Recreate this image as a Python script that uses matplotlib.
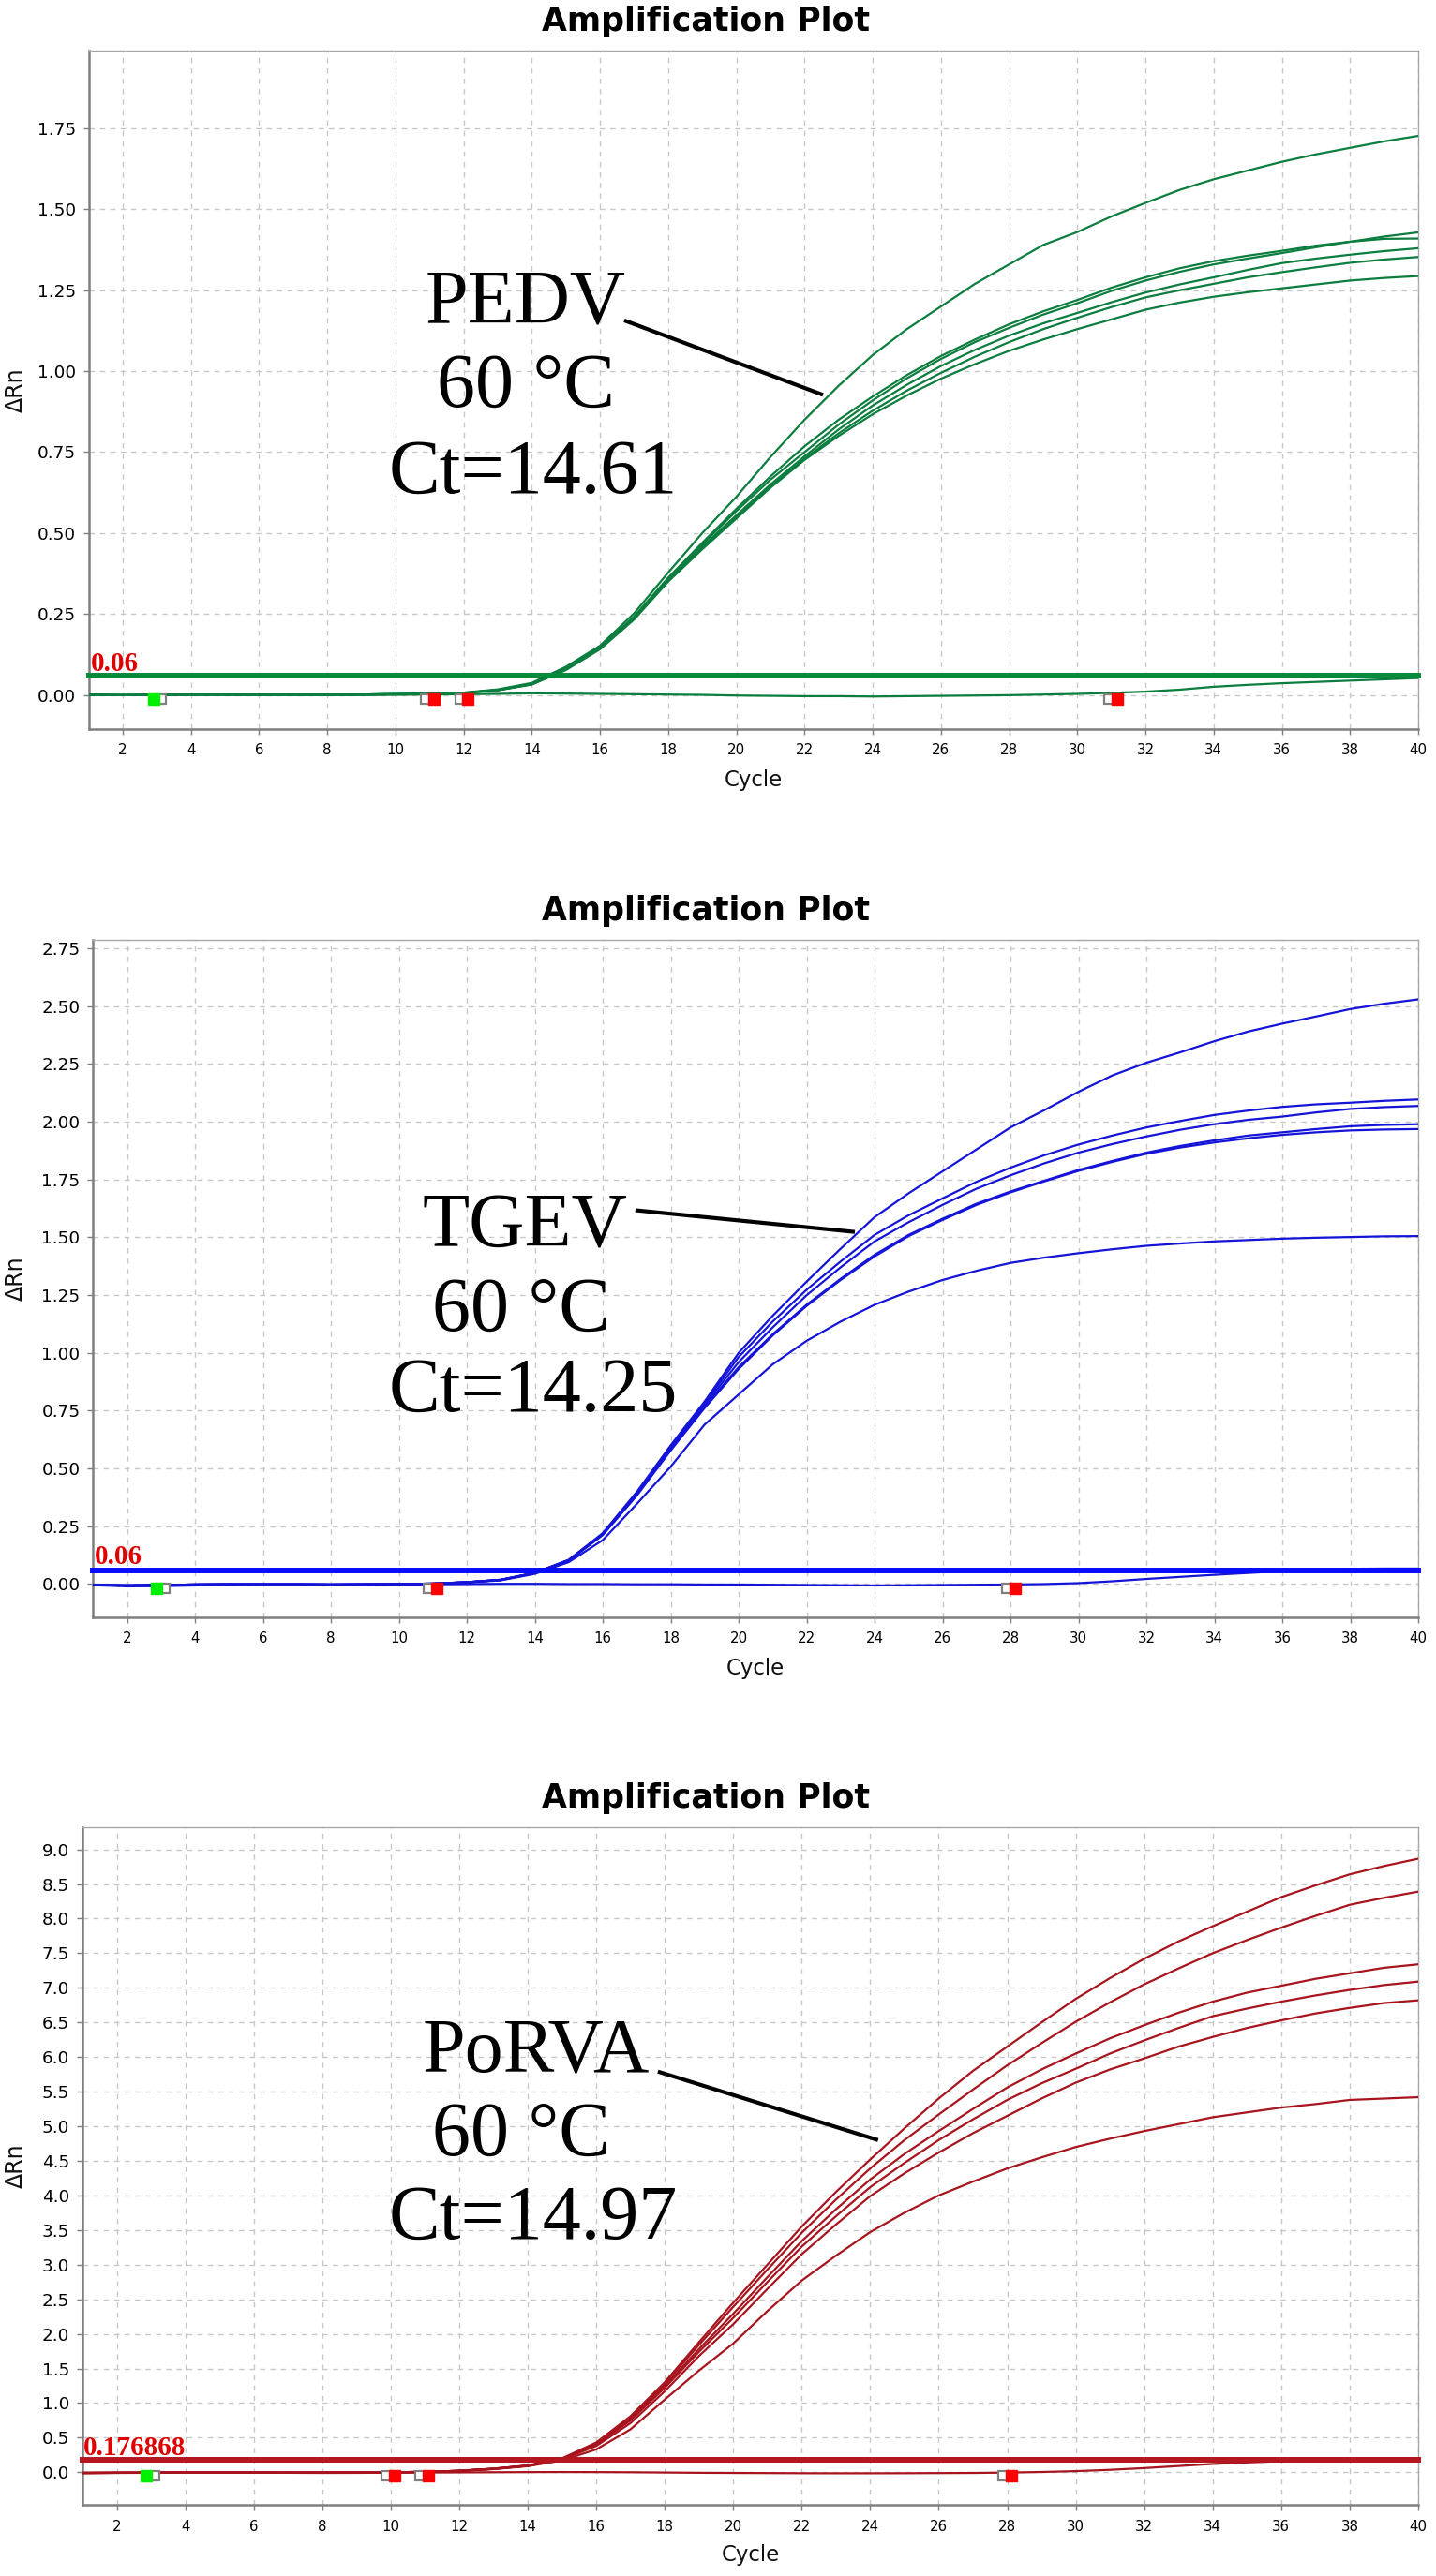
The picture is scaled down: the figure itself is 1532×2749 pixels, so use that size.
import numpy as np
import matplotlib
matplotlib.use("Agg")
import matplotlib.pyplot as plt

W, H = 1532, 2749
cycles = list(range(1, 41))

# ---------------- data -----------------
early_pedv = [0.000, -0.001, 0.000, 0.001, 0.001, 0.000, 0.000, 0.000, 0.001, 0.002, 0.003]
pedv_curves = [
    early_pedv + [0.007, 0.017, 0.037, 0.087, 0.152, 0.252, 0.378, 0.500, 0.612,
                  0.735, 0.850, 0.955, 1.050, 1.130, 1.200, 1.270, 1.330, 1.390, 1.430,
                  1.478, 1.520, 1.560, 1.593, 1.620, 1.647, 1.670, 1.690, 1.710, 1.727],
    early_pedv + [0.006, 0.015, 0.034, 0.080, 0.146, 0.240, 0.360, 0.465, 0.568,
                  0.665, 0.750, 0.835, 0.910, 0.978, 1.038, 1.090, 1.134, 1.175, 1.210,
                  1.248, 1.280, 1.307, 1.330, 1.348, 1.365, 1.383, 1.400, 1.416, 1.429],
    early_pedv + [0.006, 0.015, 0.034, 0.081, 0.147, 0.242, 0.362, 0.470, 0.575,
                  0.675, 0.768, 0.850, 0.922, 0.988, 1.047, 1.098, 1.145, 1.185, 1.220,
                  1.258, 1.290, 1.318, 1.340, 1.357, 1.372, 1.388, 1.400, 1.409, 1.410],
    early_pedv + [0.006, 0.015, 0.033, 0.079, 0.144, 0.238, 0.356, 0.458, 0.555,
                  0.650, 0.737, 0.820, 0.894, 0.958, 1.016, 1.066, 1.110, 1.148, 1.180,
                  1.213, 1.243, 1.268, 1.290, 1.313, 1.334, 1.348, 1.360, 1.371, 1.380],
    early_pedv + [0.006, 0.015, 0.033, 0.078, 0.143, 0.236, 0.354, 0.455, 0.550,
                  0.643, 0.730, 0.808, 0.878, 0.940, 0.995, 1.045, 1.090, 1.130, 1.165,
                  1.198, 1.228, 1.250, 1.270, 1.290, 1.306, 1.321, 1.335, 1.345, 1.353],
    early_pedv + [0.006, 0.014, 0.032, 0.077, 0.141, 0.233, 0.350, 0.450, 0.545,
                  0.640, 0.726, 0.800, 0.867, 0.925, 0.977, 1.022, 1.063, 1.098, 1.130,
                  1.160, 1.190, 1.212, 1.230, 1.244, 1.256, 1.268, 1.280, 1.288, 1.294],
]
pedv_flat = [0.000, -0.001, -0.001, 0.000, 0.000, 0.000, 0.000, -0.001, 0.000, 0.000,
             0.001, 0.002, 0.003, 0.005, 0.004, 0.003, 0.002, 0.001, 0.000, -0.002,
             -0.003, -0.004, -0.004, -0.005, -0.004, -0.003, -0.002, -0.001, 0.001, 0.003,
             0.006, 0.010, 0.016, 0.025, 0.031, 0.036, 0.040, 0.044, 0.048, 0.052]

early_tgev = [-0.004, -0.006, -0.004, -0.002, -0.001, -0.001, -0.001, -0.002, -0.001, 0.000, 0.002]
tgev_curves = [
    early_tgev + [0.008, 0.019, 0.049, 0.105, 0.220, 0.398, 0.600, 0.790, 1.000,
                  1.160, 1.308, 1.450, 1.587, 1.690, 1.785, 1.880, 1.975, 2.050, 2.129,
                  2.200, 2.255, 2.300, 2.348, 2.390, 2.424, 2.455, 2.487, 2.510, 2.529],
    early_tgev + [0.008, 0.018, 0.048, 0.104, 0.218, 0.394, 0.592, 0.782, 0.982,
                  1.135, 1.273, 1.395, 1.510, 1.595, 1.668, 1.740, 1.801, 1.855, 1.901,
                  1.940, 1.975, 2.003, 2.029, 2.048, 2.064, 2.075, 2.082, 2.090, 2.096],
    early_tgev + [0.008, 0.018, 0.048, 0.103, 0.216, 0.390, 0.588, 0.775, 0.960,
                  1.110, 1.249, 1.370, 1.482, 1.565, 1.640, 1.710, 1.768, 1.820, 1.866,
                  1.903, 1.936, 1.965, 1.989, 2.008, 2.022, 2.040, 2.055, 2.063, 2.068],
    early_tgev + [0.008, 0.018, 0.047, 0.102, 0.214, 0.386, 0.582, 0.768, 0.938,
                  1.080, 1.208, 1.320, 1.424, 1.510, 1.580, 1.645, 1.698, 1.745, 1.791,
                  1.830, 1.866, 1.895, 1.919, 1.940, 1.954, 1.968, 1.980, 1.986, 1.989],
    early_tgev + [0.008, 0.018, 0.047, 0.101, 0.212, 0.382, 0.578, 0.762, 0.930,
                  1.075, 1.203, 1.315, 1.417, 1.505, 1.575, 1.640, 1.694, 1.742, 1.787,
                  1.826, 1.861, 1.888, 1.910, 1.928, 1.943, 1.954, 1.962, 1.966, 1.968],
    early_tgev + [0.007, 0.016, 0.044, 0.095, 0.190, 0.346, 0.508, 0.690, 0.820,
                  0.950, 1.052, 1.135, 1.208, 1.265, 1.315, 1.355, 1.389, 1.412, 1.431,
                  1.448, 1.463, 1.473, 1.482, 1.488, 1.494, 1.498, 1.501, 1.504, 1.505],
]
tgev_flat = [-0.005, -0.010, -0.009, -0.006, -0.004, -0.003, -0.003, -0.004, -0.003, -0.002,
             -0.001, 0.000, 0.001, 0.001, 0.000, 0.000, -0.001, -0.001, -0.002, -0.002,
             -0.003, -0.004, -0.005, -0.006, -0.005, -0.004, -0.003, -0.002, 0.000, 0.004,
             0.012, 0.022, 0.031, 0.040, 0.048, 0.056, 0.062, 0.066, 0.067, 0.067]

early_porva = [-0.010, -0.008, -0.006, -0.004, -0.004, -0.005, -0.006, -0.005, -0.003, 0.000, 0.005]
porva_curves = [
    early_porva + [0.022, 0.052, 0.098, 0.200, 0.430, 0.810, 1.300, 1.880, 2.450,
                   3.000, 3.550, 4.050, 4.520, 4.970, 5.400, 5.800, 6.150, 6.500, 6.840,
                   7.140, 7.420, 7.670, 7.890, 8.100, 8.310, 8.480, 8.640, 8.760, 8.866],
    early_porva + [0.021, 0.051, 0.096, 0.196, 0.420, 0.790, 1.280, 1.840, 2.390,
                   2.930, 3.460, 3.940, 4.390, 4.800, 5.170, 5.530, 5.880, 6.200, 6.510,
                   6.790, 7.050, 7.280, 7.500, 7.690, 7.870, 8.040, 8.200, 8.300, 8.390],
    early_porva + [0.021, 0.050, 0.095, 0.192, 0.410, 0.770, 1.250, 1.780, 2.290,
                   2.820, 3.340, 3.800, 4.230, 4.600, 4.930, 5.250, 5.560, 5.820, 6.050,
                   6.270, 6.460, 6.640, 6.800, 6.930, 7.030, 7.130, 7.210, 7.290, 7.340],
    early_porva + [0.020, 0.049, 0.093, 0.188, 0.400, 0.750, 1.220, 1.740, 2.230,
                   2.750, 3.260, 3.700, 4.120, 4.470, 4.800, 5.100, 5.380, 5.620, 5.830,
                   6.050, 6.240, 6.420, 6.590, 6.700, 6.800, 6.890, 6.970, 7.040, 7.090],
    early_porva + [0.020, 0.048, 0.092, 0.184, 0.380, 0.710, 1.170, 1.680, 2.140,
                   2.650, 3.150, 3.580, 3.990, 4.320, 4.620, 4.900, 5.150, 5.400, 5.630,
                   5.820, 5.980, 6.150, 6.290, 6.420, 6.530, 6.630, 6.710, 6.780, 6.820],
    early_porva + [0.018, 0.045, 0.088, 0.170, 0.330, 0.620, 1.050, 1.470, 1.860,
                   2.330, 2.770, 3.130, 3.470, 3.750, 4.000, 4.200, 4.390, 4.550, 4.700,
                   4.820, 4.930, 5.030, 5.130, 5.200, 5.270, 5.320, 5.380, 5.400, 5.420],
]
porva_flat = [-0.010, -0.010, -0.008, -0.006, -0.005, -0.006, -0.008, -0.010, -0.009, -0.006,
              -0.004, -0.002, 0.000, 0.002, 0.003, 0.002, 0.000, -0.004, -0.008, -0.010,
              -0.012, -0.014, -0.015, -0.015, -0.014, -0.012, -0.010, -0.005, 0.004, 0.016,
              0.035, 0.060, 0.090, 0.120, 0.142, 0.160, 0.178, 0.188, 0.192, 0.195]

thresholds = [0.06, 0.06, 0.176868]
threshold_labels = ["0.06", "0.06", "0.176868"]
targets = ["PEDV", "TGEV", "PoRVA"]
temps = ["60 °C", "60 °C", "60 °C"]
ct_values = ["Ct=14.61", "Ct=14.25", "Ct=14.97"]
# baseline start/end markers (cycle positions)
start_markers = [[2.9], [2.87], [2.86]]
end_markers = [[11.13, 12.13, 31.17], [11.11, 28.14], [10.1, 11.1, 28.12]]
xtick_labels = [str(v) for v in range(2, 41, 2)]

# ---------------- styling / layout -----------------
colors = ["#0b7d3e", "#1414d8", "#a8141e"]
thr_colors = ["#078a3c", "#0a0aff", "#b5161f"]
ylims = [(-0.105, 1.99), (-0.142, 2.785), (-0.474, 9.32)]
ystep = [0.25, 0.25, 0.5]
ytop = [1.75, 2.75, 9.0]
yfmt = ["{:.2f}", "{:.2f}", "{:.1f}"]
# axes boxes in pixels: left, right, top, bottom
boxes = [(94.6, 1513, 54.2, 777.8), (99.3, 1513, 1003.3, 1725.5), (88, 1513, 1950, 2673.3)]
title_y = [22.8, 971.8, 1919]
cycle_y = [832, 1781, 2727]
marker_y = [-0.013, -0.018, -0.054]
ann = [  # (x,baseline) pixel positions for the 3 annotation lines
    [(454, 344), (466, 433.6), (415, 525.7)],
    [(451, 1330.5), (461, 1419.5), (415, 1505.6)],
    [(451, 2210.7), (461, 2299.6), (415, 2388.6)],
]
leaders = [((16.71, 1.157), (22.54, 0.927)),
           ((16.96, 1.617), (23.42, 1.523)),
           ((17.8, 5.79), (24.23, 4.80))]
thr_lab = [(97, 716), (101, 1669), (89, 2620)]
marker_fill = ["#00ee00", "#ff0000"]

fig = plt.figure(figsize=(W / 100, H / 100), dpi=100)
fig.patch.set_facecolor("white")

all_curves = [pedv_curves, tgev_curves, porva_curves]
all_flat = [pedv_flat, tgev_flat, porva_flat]

for i in range(3):
    l, r, t, b = boxes[i]
    ax = fig.add_axes([l / W, 1 - b / H, (r - l) / W, (b - t) / H])
    ax.set_xlim(1, 40)
    ax.set_ylim(*ylims[i])
    yt = np.arange(0, ytop[i] + 1e-9, ystep[i])
    ax.set_yticks(yt)
    ax.set_yticklabels([yfmt[i].format(v) for v in yt])
    ax.set_xticks(range(2, 41, 2))
    ax.set_xticklabels(xtick_labels)
    ax.grid(True, color="#c8c8c8", linestyle=(0, (4, 4)), linewidth=1.0)
    ax.set_axisbelow(True)
    for s in ["left", "bottom"]:
        ax.spines[s].set_color("#7f7f7f")
        ax.spines[s].set_linewidth(1.8)
    for s in ["top", "right"]:
        ax.spines[s].set_color("#a8a8a8")
        ax.spines[s].set_linewidth(1.0)
    ax.tick_params(axis="y", labelsize=13.2, length=4, width=1, color="#7f7f7f", pad=6)
    ax.tick_params(axis="x", labelsize=10.8, length=4, width=1, color="#7f7f7f", pad=7)

    for c in all_curves[i]:
        ax.plot(cycles, c, color=colors[i], lw=1.6, zorder=3)
    ax.plot(cycles, all_flat[i], color=colors[i], lw=1.6, zorder=3)
    ax.axhline(thresholds[i], color=thr_colors[i], lw=4.3, zorder=4,
               clip_on=False, solid_capstyle="projecting")

    # baseline markers
    for xs in start_markers[i]:
        ax.plot([xs], [marker_y[i]], marker="s", ms=8, mfc=marker_fill[0], mec=marker_fill[0],
                ls="none", zorder=6)
        ax.plot([xs + 0.24], [marker_y[i]], marker="s", ms=7, mfc="white", mec="#808080",
                mew=1.6, ls="none", zorder=5)
    for xe in end_markers[i]:
        ax.plot([xe - 0.24], [marker_y[i]], marker="s", ms=7, mfc="white", mec="#808080",
                mew=1.6, ls="none", zorder=5)
        ax.plot([xe], [marker_y[i]], marker="s", ms=8, mfc=marker_fill[1], mec=marker_fill[1],
                ls="none", zorder=6)

    # leader line
    (x0, y0), (x1, y1) = leaders[i]
    ax.plot([x0, x1], [y0, y1], color="black", lw=3.0, zorder=7, solid_capstyle="butt")

    ax.set_xlabel("Cycle", fontsize=16.5, color="#111111")
    ax.xaxis.set_label_coords(0.5, -(cycle_y[i] - b) / (b - t))
    ax.xaxis.label.set_va("center")
    ax.set_ylabel("ΔRn", fontsize=17, color="#111111")
    ax.yaxis.set_label_coords(-(l - 17) / (r - l), 0.5)
    ax.yaxis.label.set_va("center")

    fig.text(753 / W, 1 - title_y[i] / H, "Amplification Plot", ha="center", va="center",
             fontsize=25, fontweight="bold", family="DejaVu Sans")

    lines = [targets[i], temps[i], ct_values[i]]
    for (px, py), s in zip(ann[i], lines):
        fig.text(px / W, 1 - py / H, s, ha="left", va="baseline", fontsize=59,
                 family=["Liberation Serif", "DejaVu Serif"], color="black")

    tx, ty = thr_lab[i]
    fig.text(tx / W, 1 - ty / H, threshold_labels[i], ha="left", va="baseline", fontsize=21,
             fontweight="bold", family=["Liberation Serif", "DejaVu Serif"], color="#e00000")

fig.savefig("out.png", dpi=100, facecolor="white")
